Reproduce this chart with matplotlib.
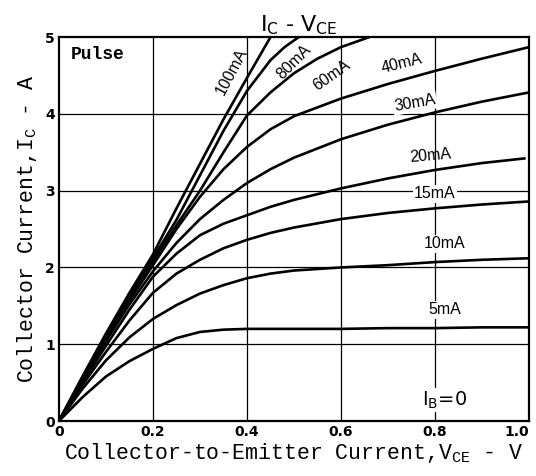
import matplotlib
matplotlib.use("Agg")
import matplotlib.pyplot as plt

# ---- data ----
x_sat = [0, 0.05, 0.1, 0.15, 0.2, 0.25, 0.3, 0.35, 0.4, 0.45, 0.5, 0.6, 0.7, 0.8, 0.9, 1.0]
x_20 = [0, 0.05, 0.1, 0.15, 0.2, 0.25, 0.3, 0.35, 0.4, 0.45, 0.5, 0.6, 0.7, 0.8, 0.9, 0.99]
ic_5 = [0, 0.31, 0.58, 0.78, 0.94, 1.08, 1.16, 1.19, 1.2, 1.2, 1.2, 1.2, 1.21, 1.21, 1.22, 1.22]
ic_10 = [0, 0.42, 0.79, 1.09, 1.33, 1.51, 1.66, 1.77, 1.86, 1.92, 1.96, 2.0, 2.03, 2.07, 2.1, 2.12]
ic_15 = [0, 0.47, 0.9, 1.31, 1.67, 1.92, 2.1, 2.25, 2.36, 2.45, 2.52, 2.63, 2.71, 2.77, 2.82, 2.86]
ic_20 = [0, 0.5, 0.98, 1.45, 1.88, 2.18, 2.42, 2.57, 2.68, 2.79, 2.88, 3.03, 3.16, 3.27, 3.36, 3.42]
ic_30 = [0, 0.53, 1.04, 1.52, 1.95, 2.32, 2.63, 2.88, 3.1, 3.28, 3.43, 3.67, 3.86, 4.02, 4.16, 4.28]
ic_40 = [0, 0.55, 1.07, 1.57, 2.03, 2.5, 2.92, 3.28, 3.57, 3.8, 3.97, 4.2, 4.39, 4.56, 4.72, 4.87]
x_60 = [0, 0.05, 0.1, 0.15, 0.2, 0.25, 0.3, 0.35, 0.4, 0.45, 0.5, 0.55, 0.6, 0.66]
ic_60 = [0, 0.56, 1.1, 1.6, 2.08, 2.55, 3.0, 3.5, 3.98, 4.28, 4.53, 4.72, 4.87, 5.0]
x_80 = [0, 0.05, 0.1, 0.15, 0.2, 0.25, 0.3, 0.35, 0.4, 0.45, 0.48, 0.51]
ic_80 = [0, 0.57, 1.12, 1.64, 2.12, 2.62, 3.2, 3.78, 4.3, 4.7, 4.87, 5.0]
x_100 = [0, 0.05, 0.1, 0.15, 0.2, 0.25, 0.3, 0.35, 0.4, 0.45]
ic_100 = [0, 0.58, 1.14, 1.67, 2.17, 2.77, 3.35, 3.93, 4.47, 5.0]

x_ticks = [0, 0.2, 0.4, 0.6, 0.8, 1.0]
x_ticklabels = ["0", "0.2", "0.4", "0.6", "0.8", "1.0"]
y_ticks = [0, 1, 2, 3, 4, 5]
y_ticklabels = ["0", "1", "2", "3", "4", "5"]

curves = [
    (x_sat, ic_5), (x_sat, ic_10), (x_sat, ic_15), (x_20, ic_20),
    (x_sat, ic_30), (x_sat, ic_40), (x_60, ic_60), (x_80, ic_80), (x_100, ic_100),
]
# label text, x, y, rotation, white background
labels = [
    ("100mA", 0.368, 4.55, 62, False),
    ("80mA", 0.50, 4.68, 45, False),
    ("60mA", 0.58, 4.50, 35, False),
    ("40mA", 0.73, 4.66, 14, False),
    ("30mA", 0.757, 4.14, 10, True),
    ("20mA", 0.79, 3.46, 5, False),
    ("15mA", 0.80, 2.96, 0, True),
    ("10mA", 0.82, 2.31, 0, True),
    ("5mA", 0.82, 1.45, 0, True),
]

fig = plt.figure(figsize=(5.36, 4.76), dpi=100)
ax = fig.add_axes([0.110, 0.1155, 0.877, 0.8065])
ax.set_xlim(0, 1.0)
ax.set_ylim(0, 5)

for xv in x_ticks[1:-1]:
    ax.axvline(xv, color="black", lw=0.9, zorder=1)
for yv in y_ticks[1:-1]:
    ax.axhline(yv, color="black", lw=0.9, zorder=1)

for xs, ys in curves:
    ax.plot(xs, ys, color="black", lw=1.9, solid_joinstyle="round", zorder=3)

for txt, lx, ly, rot, bg in labels:
    kw = {}
    if bg:
        kw["bbox"] = dict(facecolor="white", edgecolor="none", pad=1.0)
    ax.text(lx, ly, txt, rotation=rot, ha="center", va="center", fontsize=11.5,
            family="Liberation Sans", rotation_mode="anchor", zorder=4, **kw)

ax.text(0.82, 0.27, r"I$_\mathregular{B}$=0", ha="center", va="center", fontsize=14,
        family="DejaVu Sans", zorder=4,
        bbox=dict(facecolor="white", edgecolor="none", pad=1.0))
ax.text(0.025, 4.78, "Pulse", ha="left", va="center", fontsize=13,
        family="Liberation Mono", fontweight="bold", zorder=4)

ax.set_xticks(x_ticks)
ax.set_xticklabels(x_ticklabels, fontweight="bold", fontsize=10, family="DejaVu Sans")
ax.get_xticklabels()[-1].set_horizontalalignment("right")
ax.set_yticks(y_ticks)
ax.set_yticklabels(y_ticklabels, fontweight="bold", fontsize=10, family="DejaVu Sans")
ax.tick_params(length=0, pad=3)
for sp in ax.spines.values():
    sp.set_linewidth(1.6)

ax.set_xlabel(r"Collector-to-Emitter Current,V$_\mathregular{CE}$ - V",
              family="Liberation Mono", fontsize=15.5, labelpad=1)
ax.set_ylabel(r"Collector Current,I$_\mathregular{C}$ - A",
              family="Liberation Mono", fontsize=15.5, labelpad=4)
ax.set_title(r"I$_\mathregular{C}$ - V$_\mathregular{CE}$", family="DejaVu Sans",
             fontsize=16, x=0.51, pad=1)

fig.savefig("out.png", dpi=100)
